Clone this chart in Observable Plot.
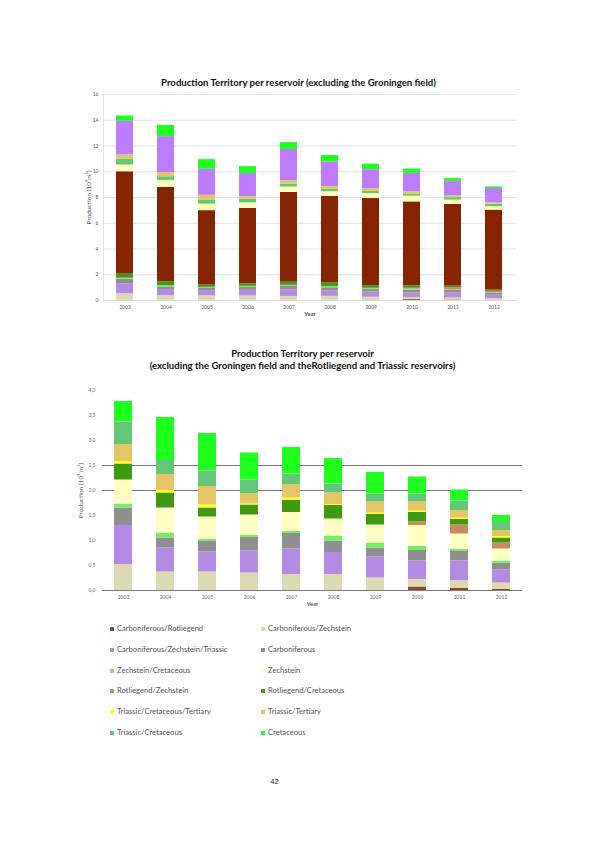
<!DOCTYPE html>
<html><head><meta charset="utf-8">
<script src="https://cdn.jsdelivr.net/npm/d3@7"></script>
<script src="https://cdn.jsdelivr.net/npm/@observablehq/plot@0.6"></script>
<style>
body{margin:0;background:#fff;}
#page{position:relative;width:595px;height:842px;overflow:hidden;background:#fff;font-family:Lato,"Open Sans",sans-serif;}
.title{position:absolute;left:0;width:595px;text-align:center;font-weight:bold;font-size:9.6px;color:#111;line-height:12px;}
#c1,#c2{position:absolute;left:0;}
#c1{top:88px;} #c2{top:383px;}
.lg{position:absolute;font-size:7.6px;color:#555;white-space:nowrap;line-height:8px;}
.lg span{display:inline-block;width:4px;height:4px;margin-right:3px;vertical-align:0px;}
g[aria-label="x-axis label"]{font-size:6px;font-weight:bold;}
g[aria-label="y-axis label"]{font-size:6.5px;}
#pn{position:absolute;left:-23px;width:595px;text-align:center;top:777px;font-size:7.5px;font-family:"Liberation Sans",Arial,sans-serif;color:#222;}
</style></head>
<body><div id="page">
<div class="title" style="top:77px;left:1px;">Production Territory per reservoir (excluding the Groningen field)</div>
<div class="title" style="top:348px;left:5px;">Production Territory per reservoir<br>(excluding the Groningen field and theRotliegend and Triassic reservoirs)</div>
<div id="c1"></div>
<div id="c2"></div>
<div id="legend"></div>
<div id="pn">42</div>
</div>
<script>
const years = ["2003","2004","2005","2006","2007","2008","2009","2010","2011","2012"];
const carbRotl    = [0,0,0,0,0,0,0,0.07,0.04,0.02];
const carbZech    = [0.52,0.37,0.37,0.35,0.32,0.32,0.25,0.15,0.16,0.13];
const carbZechTri = [0.78,0.48,0.40,0.44,0.51,0.44,0.42,0.37,0.39,0.26];
const carb        = [0.35,0.20,0.21,0.27,0.31,0.23,0.18,0.21,0.19,0.14];
const zechCret    = [0.08,0.10,0.04,0.04,0.04,0.10,0.10,0.08,0.04,0.04];
const zech        = [0.48,0.50,0.45,0.41,0.38,0.34,0.36,0.42,0.31,0.24];
const rotlZech    = [0,0,0,0,0,0,0,0.07,0.18,0.12];
const rotlCret    = [0.32,0.30,0.18,0.20,0.24,0.27,0.21,0.19,0.11,0.10];
const triCretTert = [0.05,0.05,0.06,0.02,0.05,0.02,0.03,0.03,0.03,0.03];
const triTert     = [0.34,0.32,0.37,0.21,0.27,0.23,0.22,0.18,0.15,0.12];
const triCret     = [0.45,0.28,0.31,0.27,0.21,0.18,0.16,0.16,0.19,0.18];
const cret        = [0.41,0.86,0.75,0.54,0.53,0.51,0.43,0.34,0.22,0.12];
const rotliegend  = [7.95,7.33,5.78,5.85,6.97,6.73,6.76,6.52,6.35,6.21];
const triassic    = [2.60,2.80,2.02,1.80,2.43,1.89,1.47,1.42,1.11,1.11];

const legendNames = ["Carboniferous/Rotliegend","Carboniferous/Zechstein","Carboniferous/Zechstein/Triassic","Carboniferous","Zechstein/Cretaceous","Zechstein","Rotliegend/Zechstein","Rotliegend/Cretaceous","Triassic/Cretaceous/Tertiary","Triassic/Tertiary","Triassic/Cretaceous","Cretaceous"];
const legendArrays = [carbRotl,carbZech,carbZechTri,carb,zechCret,zech,rotlZech,rotlCret,triCretTert,triTert,triCret,cret];
const legendColors = ["#8e4a30","#dcdab2","#b48ae4","#8f8f8f","#74ee62","#ffffc2","#c98a5c","#3f9a12","#ffff1a","#e6c566","#62c878","#1eff1e"];

const names1 = ["Carboniferous/Rotliegend","Carboniferous/Zechstein","Carboniferous/Zechstein/Triassic","Carboniferous","Zechstein/Cretaceous","Rotliegend/Zechstein","Rotliegend/Cretaceous","Rotliegend","Zechstein","Triassic/Cretaceous/Tertiary","Triassic/Cretaceous","Triassic/Tertiary","Triassic","Cretaceous"];
const allArrays = Object.fromEntries(legendNames.map((n,i)=>[n,legendArrays[i]]));
allArrays["Rotliegend"] = rotliegend;
allArrays["Triassic"] = triassic;
const allColors = Object.fromEntries(legendNames.map((n,i)=>[n,legendColors[i]]));
allColors["Rotliegend"] = "#862400";
allColors["Triassic"] = "#bd7cff";

function table(names){
  const rows=[];
  years.forEach((y,i)=>names.forEach(n=>rows.push({year:y, series:n, value:allArrays[n][i]})));
  return rows;
}
const data1 = table(names1);
const data2 = table(legendNames);

const chart1 = Plot.plot({
  width:540, height:235, marginLeft:103, marginRight:24, marginTop:6, marginBottom:23,
  style:{fontFamily:"Lato, sans-serif", fontSize:"5px", color:"#555", background:"white", overflow:"visible"},
  x:{type:"band", domain:years, paddingInner:0.58, paddingOuter:0.29},
  y:{domain:[0,16]},
  color:{domain:names1, range:names1.map(n=>allColors[n])},
  marks:[
    Plot.ruleY(d3.range(2,17,2),{stroke:"#dcdcdc", strokeWidth:0.8}),
    Plot.ruleY([0],{stroke:"#cfcfcf", strokeWidth:0.8}),
    Plot.frame({anchor:"left", stroke:"#dcdcdc", strokeWidth:0.8}),
    Plot.barY(data1,{x:"year", y:"value", fill:"series", order:names1}),
    Plot.axisY({ticks:d3.range(0,17,2), tickSize:0, tickPadding:5, label:"Production (10⁹m³)", labelAnchor:"center", labelArrow:"none", labelOffset:17}),
    Plot.axisX({tickSize:0, tickPadding:5, label:"Year", labelAnchor:"center", labelArrow:"none", labelOffset:15})
  ]
});
document.getElementById("c1").appendChild(chart1);

const chart2 = Plot.plot({
  width:545, height:231, marginLeft:102, marginRight:23, marginTop:7, marginBottom:24,
  style:{fontFamily:"Lato, sans-serif", fontSize:"5px", color:"#666", background:"white", overflow:"visible"},
  x:{type:"band", domain:years, paddingInner:0.58, paddingOuter:0.29},
  y:{domain:[0,4]},
  color:{domain:legendNames, range:legendColors},
  marks:[
    Plot.ruleY([2,2.5],{stroke:"#6a6a6a", strokeWidth:0.9}),
    Plot.barY(data2,{x:"year", y:"value", fill:"series", order:legendNames}),
    Plot.ruleY([0],{stroke:"#6a6a6a", strokeWidth:0.9}),
    Plot.axisY({ticks:d3.range(0,4.01,0.5), tickFormat:d=>d.toFixed(1).replace(".",","), tickSize:0, tickPadding:7, label:"Production (10⁹ m³)", labelAnchor:"center", labelArrow:"none", labelOffset:24}),
    Plot.axisX({tickSize:0, tickPadding:5, label:"Year", labelAnchor:"center", labelArrow:"none", labelOffset:15})
  ]
});
document.getElementById("c2").appendChild(chart2);

const lg = document.getElementById("legend");
legendNames.forEach((n,i)=>{
  const col = i%2, row = Math.floor(i/2);
  const d = document.createElement("div");
  d.className = "lg";
  d.style.left = (col? 261 : 110) + "px";
  d.style.top = (624 + row*20.8) + "px";
  d.innerHTML = `<span style="background:${legendColors[i]}"></span>${n}`;
  lg.appendChild(d);
});
</script>
</body></html>
